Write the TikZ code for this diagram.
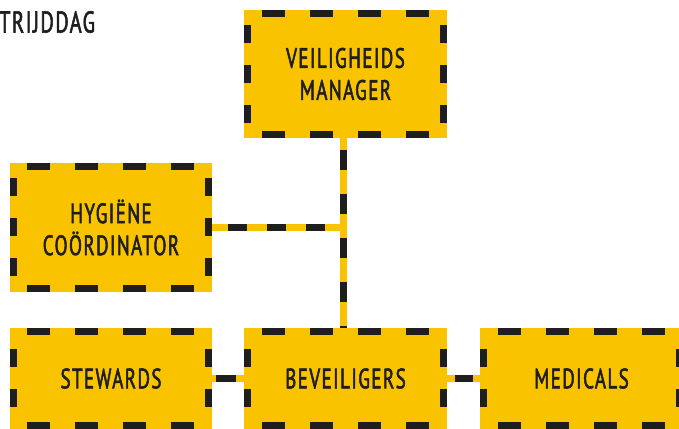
\documentclass[tikz,border=0pt]{standalone}
\usepackage{fontspec}
\setmainfont{PT Sans}[FakeStretch=0.68, LetterSpace=5, FakeBold=1.8]
\definecolor{yel}{HTML}{F9C300}
\definecolor{blk}{HTML}{1E1E1E}
\newcommand\dashline[5]{%
  \pgfmathsetmacro\dlN{floor((#3-16+#5)/(#4+#5))}%
  \pgfmathsetmacro\dlM{(#3-\dlN*#4-(\dlN-1)*#5)/2}%
  \pgfmathsetmacro\dlP{#4+#5-\dlM}%
  \draw[blk, line width=7pt, dash pattern=on #4pt off #5pt, dash phase=\dlP pt] (#1) -- (#2);%
}
\newcommand\ybox[6]{%
  \node[boxst, minimum width=#4pt, minimum height=#5pt] (#1) at (#2,#3) {#6};
  \dashline{[yshift=-3.5pt]#1.north west}{[yshift=-3.5pt]#1.north east}{#4}{23}{25}
  \dashline{[yshift=3.5pt]#1.south west}{[yshift=3.5pt]#1.south east}{#4}{23}{25}
  \dashline{[xshift=3.5pt]#1.north west}{[xshift=3.5pt]#1.south west}{#5}{18}{22}
  \dashline{[xshift=-3.5pt]#1.north east}{[xshift=-3.5pt]#1.south east}{#5}{18}{22}
}
\tikzset{
  boxst/.style={fill=yel, inner sep=0pt, align=center, text=blk, font=\fontsize{28}{32}\selectfont},
  txt/.style={text=blk, font=\fontsize{30}{32}\selectfont, inner sep=0pt},
  connbase/.style={yel, line width=7.5pt},
}
\begin{document}
\begin{tikzpicture}[x=1pt,y=1pt]
\useasboundingbox (0,0) rectangle (679,428);
\clip (0,0) rectangle (679,428);
\fill[white] (0,0) rectangle (679,428);
\node[txt, anchor=west] (title) at (-1,406) {TRIJDDAG};
% node placeholders for connectors
\path (345.5,354) node[minimum width=203pt, minimum height=128pt, inner sep=0pt] (man) {};
\path (111,200.5) node[minimum width=202pt, minimum height=129pt, inner sep=0pt] (hyg) {};
\path (111,49.5) node[minimum width=202pt, minimum height=101pt, inner sep=0pt] (stw) {};
\path (345.5,49.5) node[minimum width=203pt, minimum height=101pt, inner sep=0pt] (bev) {};
\path (581.5,49.5) node[minimum width=203pt, minimum height=101pt, inner sep=0pt] (med) {};
\coordinate (jn) at (hyg.east -| man.south);
% connectors
\draw[connbase] ([xshift=-2pt]man.south) -- ([xshift=-2pt]bev.north);
\draw[blk, line width=7.5pt, dash pattern=on 20pt off 24pt, dash phase=32pt] ([xshift=-2pt]man.south) -- ([xshift=-2pt]bev.north);
\draw[connbase] (hyg.east) -- ([xshift=-2pt]jn);
\draw[blk, line width=7.5pt, dash pattern=on 19pt off 20pt, dash phase=23pt] (hyg.east) -- ([xshift=-5.5pt]jn);
\draw[connbase] (stw.east) -- (bev.west);
\draw[blk, line width=7.5pt, dash pattern=on 20pt off 20pt, dash phase=36pt] (stw.east) -- (bev.west);
\draw[connbase] (bev.east) -- (med.west);
\draw[blk, line width=7.5pt, dash pattern=on 18pt off 20pt, dash phase=30pt] (bev.east) -- (med.west);
% boxes
\ybox{man}{345.5}{354}{203}{128}{VEILIGHEIDS\\MANAGER}
\ybox{hyg}{111}{200.5}{202}{129}{HYGIËNE\\COÖRDINATOR}
\ybox{stw}{111}{49.5}{202}{101}{STEWARDS}
\ybox{bev}{345.5}{49.5}{203}{101}{BEVEILIGERS}
\ybox{med}{581.5}{49.5}{203}{101}{MEDICALS}
\end{tikzpicture}
\end{document}
